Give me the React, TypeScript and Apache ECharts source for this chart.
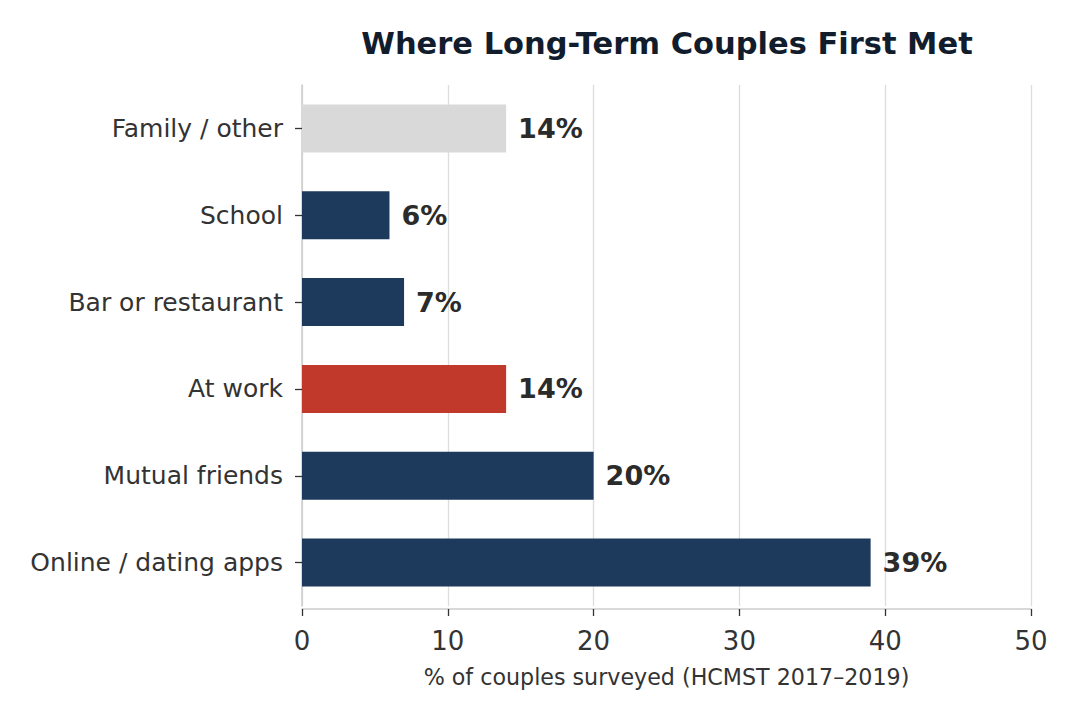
import React, { useEffect, useRef } from "react";
import * as echarts from "echarts";

const categories = [
  "Online / dating apps",
  "Mutual friends",
  "At work",
  "Bar or restaurant",
  "School",
  "Family / other",
];
const values = [39, 20, 14, 7, 6, 14];
const barColors = ["#1d3a5c", "#1d3a5c", "#c0392b", "#1d3a5c", "#1d3a5c", "#d9d9d9"];
const xTicks = [0, 10, 20, 30, 40, 50];

const FONT = "'DejaVu Sans', sans-serif";

export default function App() {
  const ref = useRef<HTMLDivElement>(null);
  useEffect(() => {
    if (!ref.current) return;
    const chart = echarts.init(ref.current, undefined, { renderer: "svg" });
    chart.setOption({
      animation: false,
      backgroundColor: "#ffffff",
      textStyle: { fontFamily: FONT },
      title: {
        text: "Where Long-Term Couples First Met",
        left: 662,
        textAlign: "center",
        top: 23,
        textStyle: { fontFamily: FONT, fontSize: 30.5, fontWeight: "bold", color: "#111c2c" },
      },
      grid: { left: 302, right: 48, top: 85, bottom: 113, containLabel: false },
      xAxis: {
        type: "value",
        min: xTicks[0],
        max: xTicks[xTicks.length - 1],
        interval: 10,
        offset: 3,
        name: "% of couples surveyed (HCMST 2017–2019)",
        nameLocation: "middle",
        nameGap: 57,
        nameTextStyle: { fontFamily: FONT, fontSize: 22.2, color: "#333333" },
        axisLine: { show: true, lineStyle: { color: "#cccccc", width: 1.5 } },
        axisTick: { show: true, length: 7, lineStyle: { color: "#333333", width: 1.3 } },
        axisLabel: { fontFamily: FONT, fontSize: 26, color: "#333333", margin: 19 },
        splitLine: { show: true, lineStyle: { color: "#dddddd", width: 1.3 } },
      },
      yAxis: {
        type: "category",
        data: categories,
        axisLine: { show: true, lineStyle: { color: "#cccccc", width: 1.5 } },
        axisTick: { show: true, alignWithLabel: true, length: 7, lineStyle: { color: "#333333", width: 1.3 } },
        axisLabel: { fontFamily: FONT, fontSize: 25, color: "#333333", margin: 19 },
        splitLine: { show: false },
      },
      series: [
        {
          type: "bar",
          barWidth: 48,
          data: values.map((v, i) => ({ value: v, itemStyle: { color: barColors[i] } })),
          label: {
            show: true,
            position: "right",
            distance: 12,
            formatter: "{c}%",
            fontFamily: FONT,
            fontSize: 27,
            fontWeight: "bold",
            color: "#2b2b2b",
          },
        },
      ],
    });
    return () => chart.dispose();
  }, []);
  return <div ref={ref} style={{ width: 1079, height: 719, position: "absolute", left: 0, top: 0 }} />;
}
